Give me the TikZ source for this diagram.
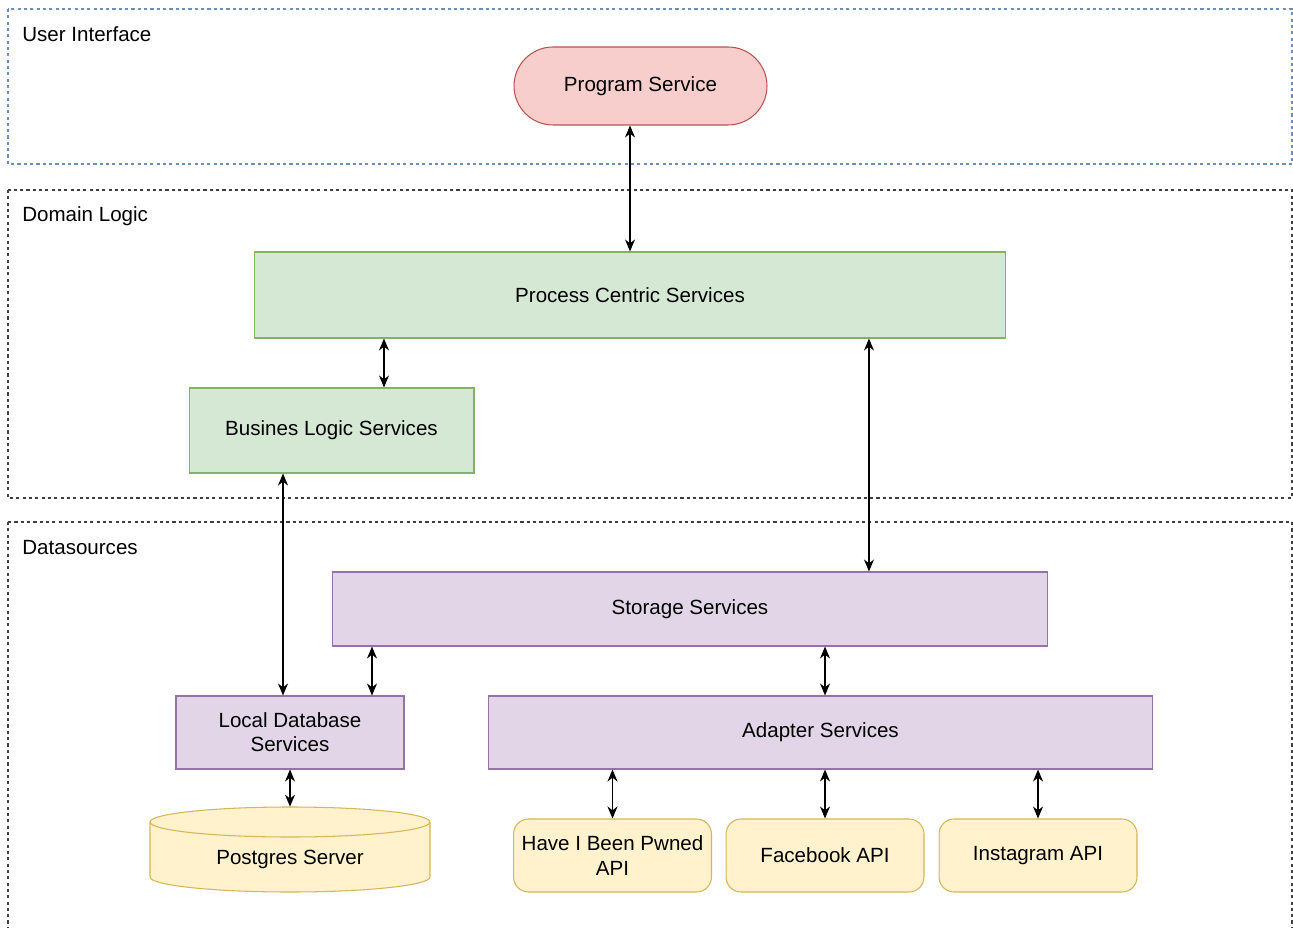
\documentclass[tikz,border=0pt]{standalone}
\usepackage{fontspec}
\setmainfont{Liberation Sans}
\usetikzlibrary{arrows.meta}
\definecolor{uiline}{HTML}{6C8EBF}
\definecolor{redfill}{HTML}{F8CECC}
\definecolor{reddraw}{HTML}{B85450}
\definecolor{greenfill}{HTML}{D5E8D4}
\definecolor{greendraw}{HTML}{82B366}
\definecolor{purplefill}{HTML}{E1D5E7}
\definecolor{purpledraw}{HTML}{9673A6}
\definecolor{yellowfill}{HTML}{FFF2CC}
\definecolor{yellowdraw}{HTML}{D6B656}

\begin{document}
\begin{tikzpicture}[x=0.02cm, y=0.02cm, font=\fontsize{11.7}{13.8}\selectfont,
    svc/.style={draw, line width=0.6pt, inner sep=0pt, align=center},
    greenbox/.style={svc, draw=greendraw, fill=greenfill},
    purplebox/.style={svc, draw=purpledraw, fill=purplefill},
    apibox/.style={svc, draw=yellowdraw, fill=yellowfill, rounded corners=0.3cm,
      minimum width=3.96cm, minimum height=1.46cm},
    layer/.style={line width=0.6pt, dash pattern=on 1.8pt off 1.8pt},
    layerlbl/.style={anchor=west, inner sep=0pt},
    link/.style={{Stealth[length=0.24cm,width=0.2cm]}-{Stealth[length=0.24cm,width=0.2cm]}, line width=0.75pt}]
    \clip (0,0) rectangle (1293,-928);

    % layers, measured in pixels of the 1293 x 928 page
    \draw[layer, uiline] (8,-9) rectangle (1292,-164);
    \draw[layer, black!75] (8,-190) rectangle (1292,-498);
    \draw[layer, black!75] (8,-522) rectangle (1292,-960);
    \node[layerlbl] (uilbl) at (22,-34) {User Interface};
    \node[layerlbl] (domlbl) at (22,-216) {Domain Logic};
    \node[layerlbl] (dslbl) at (22,-548) {Datasources};

    \node[svc, draw=reddraw, fill=redfill, rounded corners=0.78cm,
      minimum width=5.06cm, minimum height=1.56cm] (prog) at (640.5,-86) {Program Service};

    \node[greenbox, minimum width=15.04cm, minimum height=1.72cm] (proc) at (630,-295) {Process Centric Services};
    \node[greenbox, minimum width=5.7cm, minimum height=1.7cm] (bus) at (331.5,-430.5) {Busines Logic Services};

    \node[purplebox, minimum width=14.32cm, minimum height=1.48cm] (stor) at (690,-609) {Storage Services};
    \node[purplebox, minimum width=4.56cm, minimum height=1.46cm] (ldb) at (290,-732.5) {Local Database\\Services};
    \node[purplebox, minimum width=13.3cm, minimum height=1.46cm] (adp) at (820.5,-732.5) {Adapter Services};

    % Postgres cylinder
    \filldraw[draw=yellowdraw, fill=yellowfill, line width=0.6pt] (150,-822) -- (150,-877)
      arc[start angle=180, end angle=360, x radius=140, y radius=15] -- (430,-822)
      arc[start angle=0, end angle=180, x radius=140, y radius=15] -- cycle;
    \draw[yellowdraw, line width=0.6pt] (150,-822) arc[start angle=180, end angle=360, x radius=140, y radius=15];
    \node[inner sep=0pt, minimum width=5.6cm, minimum height=2.08cm] (pg) at (290,-859) {Postgres Server};

    \node[apibox] (hibp) at (612.5,-855.5) {Have I Been Pwned\\API};
    \node[apibox] (fb) at (825,-855.5) {Facebook API};
    \node[apibox] (insta) at (1038,-855.5) {Instagram API};

    \draw[link] (prog.south -| proc.north) -- (proc.north);
    \draw[link] ([xshift=1.05cm]bus.north) -- ([xshift=1.05cm]bus.north |- proc.south);
    \draw[link] ([xshift=3.58cm]stor.north) -- ([xshift=3.58cm]stor.north |- proc.south);
    \draw[link] ([xshift=-0.14cm]ldb.north) -- ([xshift=-0.14cm]ldb.north |- bus.south);
    \draw[link] ([xshift=1.64cm]ldb.north) -- ([xshift=1.64cm]ldb.north |- stor.south);
    \draw[link] ([xshift=0.09cm]adp.north) -- ([xshift=0.09cm]adp.north |- stor.south);
    \draw[link] (ldb.south) -- (pg.north);
    \draw[link] (hibp.north) -- (hibp.north |- adp.south);
    \draw[link] (fb.north) -- (fb.north |- adp.south);
    \draw[link] (insta.north) -- (insta.north |- adp.south);
  \end{tikzpicture}
\end{document}
